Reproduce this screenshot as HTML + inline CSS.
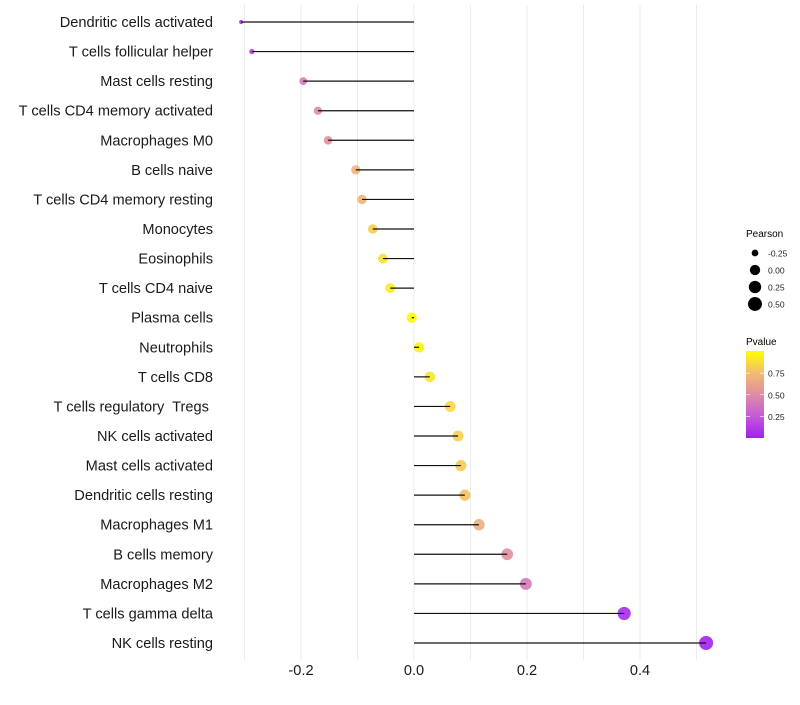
<!DOCTYPE html>
<html><head><meta charset="utf-8"><style>
body{margin:0;background:#fff;font-family:"Liberation Sans",sans-serif}
</style></head><body>
<svg id="c" width="800" height="700" xmlns="http://www.w3.org/2000/svg"></svg>
<script>
const categories=["Dendritic cells activated","T cells follicular helper","Mast cells resting","T cells CD4 memory activated","Macrophages M0","B cells naive","T cells CD4 memory resting","Monocytes","Eosinophils","T cells CD4 naive","Plasma cells","Neutrophils","T cells CD8","T cells regulatory  Tregs ","NK cells activated","Mast cells activated","Dendritic cells resting","Macrophages M1","B cells memory","Macrophages M2","T cells gamma delta","NK cells resting"];
const pearson=[-0.306,-0.287,-0.196,-0.170,-0.152,-0.103,-0.092,-0.073,-0.055,-0.042,-0.004,0.009,0.028,0.064,0.078,0.083,0.090,0.115,0.165,0.198,0.372,0.517];
const pvalue=[0.1,0.15,0.42,0.5,0.52,0.7,0.72,0.82,0.88,0.92,0.99,0.95,0.9,0.85,0.82,0.8,0.77,0.68,0.52,0.42,0.05,0.01];
const xTicks=[-0.2,0,0.2,0.4];
const xTickLabels=["-0.2","0.0","0.2","0.4"];
const gridVals=[-0.3,-0.2,-0.1,0,0.1,0.2,0.3,0.4,0.5];
const sizeLegend=[-0.25,0,0.25,0.5];
const sizeLegendLabels=["-0.25","0.00","0.25","0.50"];
const colorTicks=[0.25,0.5,0.75];

const NS="http://www.w3.org/2000/svg";
const svg=document.getElementById('c');
function x(v){return 414+v*565;}
function y(i){return 22+i*(621/21);}
function r(v){const t=Math.max(0,(v+0.31)/(0.52+0.31));return 1.4+5.6*Math.pow(t,0.4);}
const stops=[[0,[160,32,240]],[0.25,[196,90,214]],[0.5,[222,140,165]],[0.75,[243,188,110]],[1,[255,255,0]]];
function col(p){for(let k=1;k<stops.length;k++){if(p<=stops[k][0]){const [p0,c0]=stops[k-1],[p1,c1]=stops[k];const t=(p-p0)/(p1-p0);return 'rgb('+c0.map((c,j)=>Math.round(c+(c1[j]-c)*t)).join(',')+')';}}return 'rgb(255,255,0)';}
function mk(tag,attrs,parent){const e=document.createElementNS(NS,tag);for(const k in attrs)e.setAttribute(k,attrs[k]);(parent||svg).appendChild(e);return e;}

gridVals.forEach(v=>{const l=mk('line',{x1:x(v),x2:x(v),y1:5,y2:660,stroke:'#ebebeb','stroke-width':1});

});

categories.forEach((c,i)=>{
 const t=mk('text',{x:213,y:y(i)+5,'text-anchor':'end','font-size':14.6,fill:'#1a1a1a'});t.textContent=c;
 t.style.whiteSpace='pre';
 
 
 const ci=mk('circle',{cx:x(pearson[i]),cy:y(i),r:r(pearson[i]),fill:col(pvalue[i]),'fill-opacity':0.9});
 
 
 const l=mk('line',{x1:x(0),x2:x(pearson[i]),y1:y(i),y2:y(i),stroke:'#111','stroke-width':1.2});
 
 
});
xTicks.forEach((v,i)=>{const t=mk('text',{x:x(v),y:675,'text-anchor':'middle','font-size':14.6,fill:'#1a1a1a'});t.textContent=xTickLabels[i];
 
 });

const st=mk('text',{x:746,y:237,'font-size':10,fill:'#000'});st.textContent='Pearson';


sizeLegend.forEach((v,i)=>{const cy=253+i*17;
 const c=mk('circle',{cx:755,cy:cy,r:r(v),fill:'#000'});
 
 
 const t=mk('text',{x:768,y:cy+3.5,'font-size':8.5,fill:'#222'});t.textContent=sizeLegendLabels[i];
 
 });

const ct=mk('text',{x:746,y:345,'font-size':10,fill:'#000'});ct.textContent='Pvalue';


const defs=mk('defs',{});const g=mk('linearGradient',{id:'pg',x1:0,y1:1,x2:0,y2:0},defs);
stops.forEach(s=>mk('stop',{offset:s[0],'stop-color':'rgb('+s[1].join(',')+')'},g));
const cb=mk('rect',{x:746,y:351,width:18,height:87,fill:'url(#pg)'});


colorTicks.forEach(v=>{const yy=438-v*86.5;
 mk('line',{x1:746,x2:750,y1:yy,y2:yy,stroke:'#fff','stroke-width':0.6});
 mk('line',{x1:760,x2:764,y1:yy,y2:yy,stroke:'#fff','stroke-width':0.6});
 const t=mk('text',{x:768,y:yy+3.5,'font-size':8.5,fill:'#222'});t.textContent=v.toFixed(2);
 
 });
</script>
</body></html>
